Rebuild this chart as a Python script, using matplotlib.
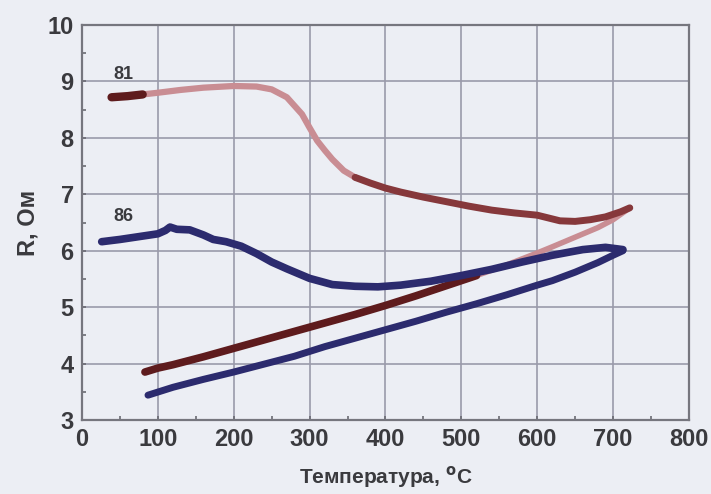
import numpy as np
import matplotlib.pyplot as plt
from matplotlib.ticker import MultipleLocator

# sample 81, heating and cooling
t81_heat = [39, 60, 80, 100, 130, 160, 200, 230, 250, 270, 290, 300, 310, 320, 330, 345,
            360, 380, 400, 420, 450, 480, 510, 540, 570, 600, 630, 650, 670, 690, 710, 722]
r81_heat = [8.72, 8.74, 8.77, 8.80, 8.85, 8.89, 8.92, 8.91, 8.86, 8.72, 8.42, 8.18, 7.95, 7.78,
            7.62, 7.42, 7.30, 7.20, 7.11, 7.04, 6.95, 6.87, 6.79, 6.72, 6.67, 6.63, 6.53, 6.52,
            6.55, 6.60, 6.69, 6.76]
t81_cool = [722, 700, 680, 650, 620, 600, 560, 520, 480, 440, 400, 360, 320, 280, 240, 200,
            160, 120, 100, 83]
r81_cool = [6.76, 6.55, 6.41, 6.24, 6.07, 5.96, 5.75, 5.56, 5.38, 5.20, 5.03, 4.87, 4.72, 4.57,
            4.42, 4.27, 4.12, 3.98, 3.92, 3.85]

# sample 86, heating and cooling
t86_heat = [26, 50, 75, 100, 110, 116, 125, 142, 160, 173, 190, 210, 230, 250, 270, 300, 330,
            360, 390, 420, 460, 500, 540, 580, 620, 660, 690, 713]
r86_heat = [6.16, 6.20, 6.25, 6.30, 6.36, 6.42, 6.38, 6.37, 6.28, 6.20, 6.16, 6.08, 5.95, 5.80,
            5.68, 5.51, 5.40, 5.37, 5.36, 5.39, 5.46, 5.56, 5.67, 5.80, 5.92, 6.02, 6.06, 6.02]
t86_cool = [713, 700, 680, 650, 620, 600, 560, 520, 480, 440, 400, 360, 320, 280, 240, 200,
            160, 120, 87]
r86_cool = [6.00, 5.92, 5.79, 5.62, 5.47, 5.39, 5.22, 5.06, 4.91, 4.75, 4.60, 4.45, 4.30, 4.13,
            3.99, 3.85, 3.72, 3.58, 3.44]

bg = '#eceef4'
dark_red = '#5e1b1d'
mid_red = '#86383b'
pink = '#c98d93'
blue = '#2c2b6e'
txt = '#3a3a3e'

plt.rcParams['font.family'] = ['Liberation Sans', 'DejaVu Sans']
plt.rcParams['font.weight'] = 'bold'

fig = plt.figure(figsize=(7.11, 4.94), dpi=100, facecolor=bg)
ax = fig.add_axes([0.1153, 0.1498, 0.8537, 0.7995], facecolor=bg)

# red heating curve: dark start, pink middle, darker end
ax.plot(t81_heat[:3], r81_heat[:3], color=dark_red, lw=6, solid_capstyle='round', zorder=3)
ax.plot(t81_heat[2:17], r81_heat[2:17], color=pink, lw=4.5, solid_capstyle='round', zorder=2)
ax.plot(t81_heat[16:], r81_heat[16:], color=mid_red, lw=5, solid_capstyle='round', zorder=3)
# red cooling curve
ax.plot(t81_cool[:8], r81_cool[:8], color=pink, lw=4, solid_capstyle='round', zorder=2)
ax.plot(t81_cool[7:], r81_cool[7:], color=dark_red, lw=5.5, solid_capstyle='round', zorder=3)

# blue curves
ax.plot(t86_heat, r86_heat, color=blue, lw=5.5, solid_capstyle='round', zorder=4)
ax.plot(t86_cool, r86_cool, color=blue, lw=5, solid_capstyle='round', zorder=4)

ax.text(41, 9.05, '81', fontsize=13, color=txt, fontweight='bold')
ax.text(41, 6.52, '86', fontsize=13, color=txt, fontweight='bold')

ax.set_xlim(0, 800)
ax.set_ylim(3, 10)
ax.xaxis.set_major_locator(MultipleLocator(100))
ax.yaxis.set_major_locator(MultipleLocator(1))
ax.xaxis.set_minor_locator(MultipleLocator(50))
ax.yaxis.set_minor_locator(MultipleLocator(0.5))
ax.grid(True, which='major', color='#9a9aaa', lw=1.2)
ax.tick_params(which='both', direction='in', colors='#6a6a72', labelcolor=txt,
               labelsize=17, length=3, width=1.2, pad=6)
for s in ax.spines.values():
    s.set_color('#76767e')
    s.set_linewidth(1.6)

ax.set_xlabel('Температура, $^{\\mathbf{o}}$C', fontsize=15, color=txt, fontweight='bold', labelpad=9)
ax.set_ylabel('R, Ом', fontsize=17, color=txt, fontweight='bold', labelpad=6)

fig.savefig('out.png', dpi=100, facecolor=bg)
